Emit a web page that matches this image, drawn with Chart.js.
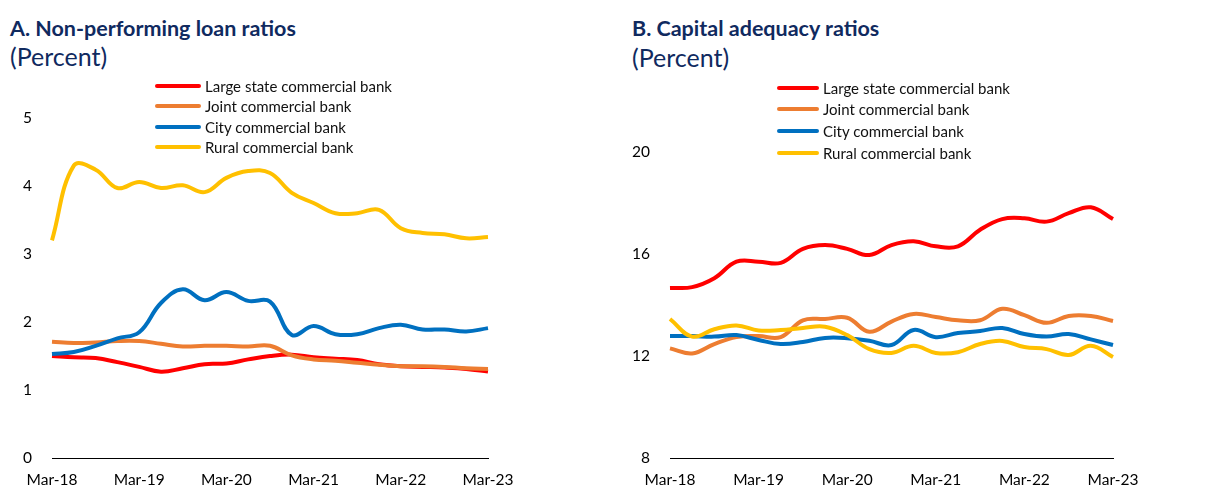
<!DOCTYPE html>
<html>
<head>
<meta charset="utf-8">
<script src="https://cdn.jsdelivr.net/npm/chart.js@4/dist/chart.umd.min.js"></script>
<style>
  body { margin: 0; background: #fff; width: 1227px; height: 491px; position: relative; overflow: hidden; font-family: Lato, "Open Sans", sans-serif; }
  .panel { position: absolute; top: 0; height: 491px; }
  .panel canvas { position: absolute; left: 0; top: 0; }
  .title { position: absolute; color: #102a5f; font-weight: bold; font-size: 21.5px; line-height: 26px; white-space: nowrap; }
  .unit { position: absolute; color: #102a5f; font-size: 25px; line-height: 28px; white-space: nowrap; }
  .legend { position: absolute; font-size: 15px; color: #111; }
  .legend .row { display: flex; align-items: center; white-space: nowrap; }
  .legend .swatch { display: inline-block; height: 4px; border-radius: 2px; margin-right: 4px; }
</style>
</head>
<body>

<div class="panel" id="panelA" style="left:0; width:610px;">
  <div class="title" style="left:10px; top:15px;">A. Non-performing loan ratios</div>
  <div class="unit" style="left:10px; top:42px;">(Percent)</div>
  <canvas id="chartA" width="610" height="491"></canvas>
  <div class="legend" id="legendA" style="left:155px; top:76px;"></div>
</div>

<div class="panel" id="panelB" style="left:615px; width:612px;">
  <div class="title" style="left:17px; top:15px;">B. Capital adequacy ratios</div>
  <div class="unit" style="left:17px; top:43px;">(Percent)</div>
  <canvas id="chartB" width="612" height="491"></canvas>
  <div class="legend" id="legendB" style="left:162px; top:77px;"></div>
</div>

<script>
// Quarterly observations, Mar-18 to Mar-23
const quarters = [
    'Mar-18', 'Jun-18', 'Sep-18', 'Dec-18',
    'Mar-19', 'Jun-19', 'Sep-19', 'Dec-19',
    'Mar-20', 'Jun-20', 'Sep-20', 'Dec-20',
    'Mar-21', 'Jun-21', 'Sep-21', 'Dec-21',
    'Mar-22', 'Jun-22', 'Sep-22', 'Dec-22',
    'Mar-23'
];

const seriesNames = ['Large state commercial bank', 'Joint commercial bank', 'City commercial bank', 'Rural commercial bank'];
const seriesColors = ['#ff0000', '#ed7d31', '#0070c0', '#ffc000'];

// Panel A: non-performing loan ratios (percent)
const nplLarge = [1.50, 1.48, 1.47, 1.41, 1.34, 1.27, 1.32, 1.38, 1.39, 1.45, 1.50, 1.52, 1.48, 1.46, 1.44, 1.38, 1.35, 1.34, 1.33, 1.31, 1.27];
const nplJoint = [1.71, 1.69, 1.70, 1.72, 1.72, 1.68, 1.64, 1.65, 1.65, 1.64, 1.65, 1.51, 1.45, 1.43, 1.40, 1.37, 1.35, 1.35, 1.34, 1.32, 1.31];
const nplCity  = [1.53, 1.56, 1.65, 1.76, 1.85, 2.28, 2.48, 2.32, 2.44, 2.31, 2.30, 1.81, 1.94, 1.82, 1.82, 1.91, 1.96, 1.89, 1.89, 1.86, 1.91];
const nplRural = [3.20, 4.30, 4.24, 3.97, 4.06, 3.97, 4.01, 3.91, 4.12, 4.22, 4.19, 3.90, 3.75, 3.60, 3.60, 3.65, 3.38, 3.31, 3.29, 3.23, 3.25];
const nplTicks = { min: 0, max: 5, step: 1 };

// Panel B: capital adequacy ratios (percent)
const carLarge = [14.67, 14.70, 15.05, 15.70, 15.70, 15.65, 16.20, 16.35, 16.20, 15.96, 16.35, 16.50, 16.30, 16.30, 16.95, 17.37, 17.40, 17.27, 17.60, 17.83, 17.37];
const carJoint = [12.30, 12.10, 12.47, 12.74, 12.78, 12.74, 13.40, 13.45, 13.50, 12.95, 13.35, 13.65, 13.53, 13.40, 13.40, 13.85, 13.60, 13.30, 13.57, 13.57, 13.37];
const carCity  = [12.78, 12.78, 12.76, 12.82, 12.63, 12.47, 12.55, 12.71, 12.70, 12.60, 12.43, 13.02, 12.74, 12.90, 12.98, 13.10, 12.86, 12.76, 12.86, 12.65, 12.43];
const carRural = [13.45, 12.76, 13.05, 13.20, 13.00, 13.02, 13.10, 13.15, 12.82, 12.27, 12.12, 12.40, 12.12, 12.15, 12.47, 12.59, 12.35, 12.27, 12.04, 12.40, 11.96];
const carTicks = { min: 8, max: 20, step: 4 };

const tickFont = { family: 'Lato, "Open Sans", sans-serif', size: 15.5 };

// Build datasets; later series are drawn on top, like the original
function makeDatasets(seriesList) {
    return seriesList.map((values, i) => ({
        label: seriesNames[i],
        data: values,
        borderColor: seriesColors[i],
        backgroundColor: seriesColors[i],
        borderWidth: 4,
        pointRadius: 0,
        tension: 0.4,
        fill: false,
        order: seriesList.length - i
    }));
}

// Build the html legend from the series names and colours
function buildLegend(id, rowHeight, swatchWidth) {
    const box = document.getElementById(id);
    seriesNames.forEach((name, i) => {
        const row = document.createElement('div');
        row.className = 'row';
        row.style.height = rowHeight + 'px';
        row.innerHTML = `<span class="swatch" style="width:${swatchWidth}px;background:${seriesColors[i]}"></span><span>${name}</span>`;
        box.appendChild(row);
    });
}

function makeChart(canvasId, seriesList, ticks, area) {
    const ctx = document.getElementById(canvasId).getContext('2d');
    return new Chart(ctx, {
        type: 'line',
        data: {
            labels: quarters,
            datasets: makeDatasets(seriesList)
        },
        options: {
            responsive: false,
            animation: false,
            events: [],
            layout: {
                padding: { top: area.top, right: area.right, bottom: 0, left: 0 }
            },
            plugins: {
                legend: { display: false },
                tooltip: { enabled: false }
            },
            scales: {
                x: {
                    offset: false,
                    grid: { display: false, drawTicks: false },
                    border: { display: true, color: '#000', width: 1 },
                    ticks: {
                        autoSkip: false,
                        maxRotation: 0,
                        padding: 13,
                        color: '#000',
                        font: tickFont,
                        callback: function (value, index) {
                            return index % 4 === 0 ? quarters[index] : null;
                        }
                    },
                    afterFit: scale => { scale.height = area.bottom; }
                },
                y: {
                    min: ticks.min,
                    max: ticks.max,
                    grid: { display: false, drawTicks: false },
                    border: { display: false },
                    ticks: {
                        stepSize: ticks.step,
                        padding: 20,
                        color: '#000',
                        font: tickFont
                    },
                    afterFit: scale => { scale.width = area.left; }
                }
            }
        }
    });
}

document.addEventListener('DOMContentLoaded', () => {
    buildLegend('legendA', 20.3, 46);
    buildLegend('legendB', 21.6, 42);

    makeChart('chartA', [nplLarge, nplJoint, nplCity, nplRural], nplTicks,
        { left: 52, right: 122, top: 118, bottom: 33 });
    makeChart('chartB', [carLarge, carJoint, carCity, carRural], carTicks,
        { left: 55, right: 114, top: 152, bottom: 33 });
});
</script>
</body>
</html>
